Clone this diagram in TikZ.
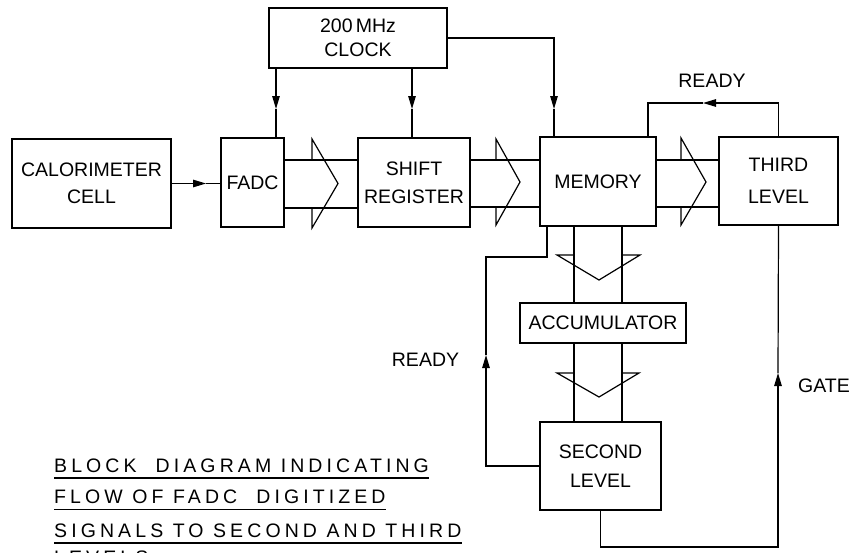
\documentclass[tikz,border=0pt]{standalone}
\usepackage{fontspec}
\setmainfont{Liberation Sans}
\newfontfamily\capfont[LetterSpace=21]{Liberation Sans}
\usetikzlibrary{arrows.meta,calc}
\begin{document}
\begin{tikzpicture}[x=1pt,y=-1pt,
  box/.style={draw,line width=1.8pt,inner sep=0pt,align=center,font=\fontsize{19.5}{27}\selectfont},
  wire/.style={line width=1.2pt,line join=miter},
  tip/.style={wire,-{Triangle[length=13pt,width=7.5pt]}},
  lbl/.style={inner sep=0pt,font=\fontsize{19.5}{27}\selectfont},
  captext/.style={inner sep=0pt,anchor=base west,font=\capfont\fontsize{19.5}{27}\selectfont}]
\clip (0,0) rectangle (853,552);
\fill[white] (0,0) rectangle (853,552);

% boxes
\node[box,minimum width=159pt,minimum height=89pt] (cal) at (91.5,183.5) {CALORIMETER\\CELL};
\node[box,minimum width=63pt,minimum height=89pt] (fadc) at (252.5,182.5) {FADC};
\node[box,minimum width=178pt,minimum height=60pt,font=\fontsize{19.5}{24.5}\selectfont] (clk) at (358,38) {200\,MHz\\CLOCK};
\node[box,minimum width=112pt,minimum height=89pt,font=\fontsize{19.5}{28}\selectfont] (sr) at (414,182.5) {SHIFT\\REGISTER};
\node[box,minimum width=116pt,minimum height=89pt] (mem) at (598,181.5) {MEMORY};
\node[box,minimum width=119pt,minimum height=88pt,font=\fontsize{19.5}{32}\selectfont] (third) at (778.5,181) {THIRD\\LEVEL};
\node[box,minimum width=166pt,minimum height=40pt] (acc) at (603,323) {ACCUMULATOR};
\node[box,minimum width=121pt,minimum height=88pt,font=\fontsize{19.5}{29.5}\selectfont] (sec) at (600.5,466) {SECOND\\LEVEL};

% calorimeter -> FADC
\coordinate (a1) at (206,183.5);
\draw[tip] (cal.east) -- (a1);
\draw[wire] (a1) -- (fadc.west |- a1);

% clock lines
\coordinate (a2) at (276,109);
\draw[tip] (clk.south -| a2) -- (a2);
\draw[wire] (a2) -- (fadc.north -| a2);
\coordinate (a3) at (412,109);
\draw[tip] (clk.south -| a3) -- (a3);
\draw[wire] (a3) -- (sr.north -| a3);
\coordinate (a4) at (554,109);
\draw[tip] (clk.east) -| (a4);
\draw[wire] (a4) -- (mem.north -| a4);

% READY from third level to memory
\coordinate (r1) at (703,103);
\coordinate (r2) at (648,103);
\draw[tip] (third.north) |- (r1);
\draw[wire] (r1) -- (r2) -- (mem.north -| r2);
\node[lbl] (readyt) at (712,81) {READY};

% READY from second level to memory
\coordinate (l1) at (486,355);
\coordinate (l2) at (547,257);
\draw[tip] (sec.west) -| (l1);
\draw[wire] (l1) |- (l2) -- (mem.south -| l2);
\node[lbl] (readyl) at (425.5,360) {READY};

% GATE from second level to third level
\coordinate (g0) at (778,547);
\coordinate (g1) at (778,373);
\draw[tip] (sec.south) |- (g0) -- (g1);
\draw[wire] (g1) -- (third.south);
\node[lbl] (gate) at (824,385.5) {GATE};

% buses
\draw[wire] (fadc.east |- 0,160) -- (sr.west |- 0,160);
\draw[wire] (fadc.east |- 0,208) -- (sr.west |- 0,208);
\draw[wire] (312,160) -- (312,139) -- (338,183.5) -- (312,228) -- (312,208);

\draw[wire] (sr.east |- 0,160) -- (mem.west |- 0,160);
\draw[wire] (sr.east |- 0,207) -- (mem.west |- 0,207);
\draw[wire] (496,160) -- (496,139) -- (520,182) -- (496,225) -- (496,207);

\draw[wire] (mem.east |- 0,160) -- (third.west |- 0,160);
\draw[wire] (mem.east |- 0,207) -- (third.west |- 0,207);
\draw[wire] (681,160) -- (681,138) -- (706,182) -- (681,225) -- (681,207);

\draw[wire] (mem.south -| 574,0) -- (acc.north -| 574,0);
\draw[wire] (mem.south -| 622,0) -- (acc.north -| 622,0);
\draw[wire] (574,255) -- (557,255) -- (599,280) -- (640,255) -- (622,255);

\draw[wire] (acc.south -| 574,0) -- (sec.north -| 574,0);
\draw[wire] (acc.south -| 622,0) -- (sec.north -| 622,0);
\draw[wire] (574,373) -- (557,373) -- (599,397) -- (639,373) -- (622,373);

% caption
\node[captext] (c1) at (54,472) {BLOCK\ \ DIAGRAM INDICATING};
\node[captext] (c2) at (54,503.5) {FLOW OF FADC\ \ DIGITIZED};
\node[captext] (c3) at (54,537) {SIGNALS TO SECOND AND THIRD};
\node[captext] (c4) at (54,564) {LEVELS};
\foreach \c in {c1,c2,c3,c4}
  \draw[wire] ($(\c.base west)+(0,6)$) -- ($(\c.base east)+(0,6)$);
\end{tikzpicture}
\end{document}
